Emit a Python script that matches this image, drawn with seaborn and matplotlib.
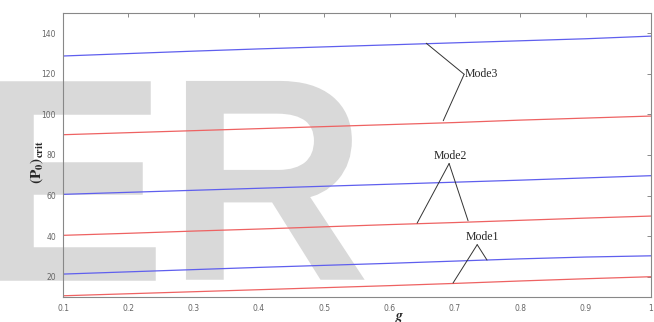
import matplotlib
matplotlib.use("Agg")
import matplotlib.pyplot as plt
import matplotlib.patheffects as pe
import seaborn as sns
import pandas as pd

# ---- data ----
g_values = [0.1, 0.2, 0.3, 0.4, 0.5, 0.6, 0.7, 0.8, 0.9, 1.0]
mode1_blue = [21.3, 22.4, 23.5, 24.6, 25.6, 26.6, 27.7, 28.8, 29.7, 30.3]
mode1_red = [10.6, 11.6, 12.6, 13.6, 14.6, 15.6, 16.7, 17.9, 19.0, 20.0]
mode2_blue = [60.6, 61.6, 62.6, 63.6, 64.6, 65.6, 66.6, 67.6, 68.7, 69.8]
mode2_red = [40.4, 41.4, 42.5, 43.5, 44.6, 45.7, 46.7, 47.8, 48.9, 49.9]
mode3_blue = [128.8, 130.0, 131.2, 132.3, 133.3, 134.3, 135.3, 136.3, 137.3, 138.6]
mode3_red = [90.0, 91.0, 92.0, 93.0, 94.0, 95.0, 96.0, 97.2, 98.2, 99.2]

x_ticks = [0.1, 0.2, 0.3, 0.4, 0.5, 0.6, 0.7, 0.8, 0.9, 1.0]
x_tick_labels = ["0.1", "0.2", "0.3", "0.4", "0.5", "0.6", "0.7", "0.8", "0.9", "1"]
y_ticks = [20, 40, 60, 80, 100, 120, 140]

# annotation labels: text, apex, end points
ann_labels = ["Mode3", "Mode2", "Mode1"]
ann_apex = [(0.714, 119.8), (0.691, 75.8), (0.734, 35.8)]
ann_ends = [[(0.656, 135.1), (0.682, 96.9)],
            [(0.642, 46.4), (0.720, 47.6)],
            [(0.697, 16.9), (0.749, 28.2)]]

series = {
    "m1b": (mode1_blue, "blue"), "m1r": (mode1_red, "red"),
    "m2b": (mode2_blue, "blue"), "m2r": (mode2_red, "red"),
    "m3b": (mode3_blue, "blue"), "m3r": (mode3_red, "red"),
}
rows = []
for name, (vals, kind) in series.items():
    for gx, v in zip(g_values, vals):
        rows.append({"g": gx, "P": v, "series": name, "kind": kind})
df = pd.DataFrame(rows)

sns.set_style("white")
plt.rcParams["mathtext.fontset"] = "stix"

fig = plt.figure(figsize=(6.54, 3.22), dpi=100)
fig.patch.set_facecolor("white")

# watermark
wm_color = "#d9d9d9"
thick = [pe.withStroke(linewidth=9, foreground=wm_color, joinstyle="miter", capstyle="projecting")]
fig.text(-20 / 654, 1 - 273.5 / 322, "E", fontsize=195, color=wm_color,
         family="Liberation Sans", va="baseline", ha="left", zorder=0,
         path_effects=thick)
fig.text(170 / 654, 1 - 273.5 / 322, "R", fontsize=195, color=wm_color,
         family="Liberation Sans", va="baseline", ha="left", zorder=0,
         path_effects=thick)

ax = fig.add_axes([63 / 654, 1 - 297 / 322, 588 / 654, 284 / 322])
ax.set_facecolor("none")
ax.set_zorder(2)

palette = {"blue": "#5f5fee", "red": "#ee6262"}
for name in series:
    sub = df[df["series"] == name]
    sns.lineplot(data=sub, x="g", y="P", color=palette[sub["kind"].iloc[0]],
                 linewidth=0.9, ax=ax, legend=False)

ax.set_xlim(0.1, 1.0)
ax.set_ylim(10, 150)
ax.set_xticks(x_ticks)
ax.set_xticklabels(x_tick_labels)
ax.set_yticks(y_ticks)
ax.tick_params(direction="in", length=3, width=0.6, colors="#777777",
               labelsize=5.5, top=True, right=True, labelcolor="#666666", pad=5)
for s in ax.spines.values():
    s.set_color("#888888")
    s.set_linewidth(0.8)

ax.set_xlabel(r"$\boldsymbol{g}$", fontsize=10)
ax.xaxis.set_label_coords((400 - 63) / 588, -(311 - 297) / 284)
ax.set_ylabel(r"$\mathbf{(P_{0})_{crit}}$", fontsize=11)
ax.yaxis.set_label_coords(-(63 - 45) / 588, (297 - 162) / 284)

for lab, apex, ends in zip(ann_labels, ann_apex, ann_ends):
    for e in ends:
        ax.plot([apex[0], e[0]], [apex[1], e[1]], color="#333333", linewidth=0.7)
    if lab == "Mode3":
        ax.text(apex[0], apex[1], lab, fontsize=8.5, family="Liberation Serif",
                ha="left", va="center")
    elif lab == "Mode2":
        ax.text(apex[0] + 0.002, apex[1] + 0.8, lab, fontsize=8.5, family="Liberation Serif",
                ha="center", va="bottom")
    else:
        ax.text(apex[0] + 0.008, apex[1] + 0.8, lab, fontsize=8.5, family="Liberation Serif",
                ha="center", va="bottom")

fig.savefig("out.png", dpi=100, facecolor="white")
